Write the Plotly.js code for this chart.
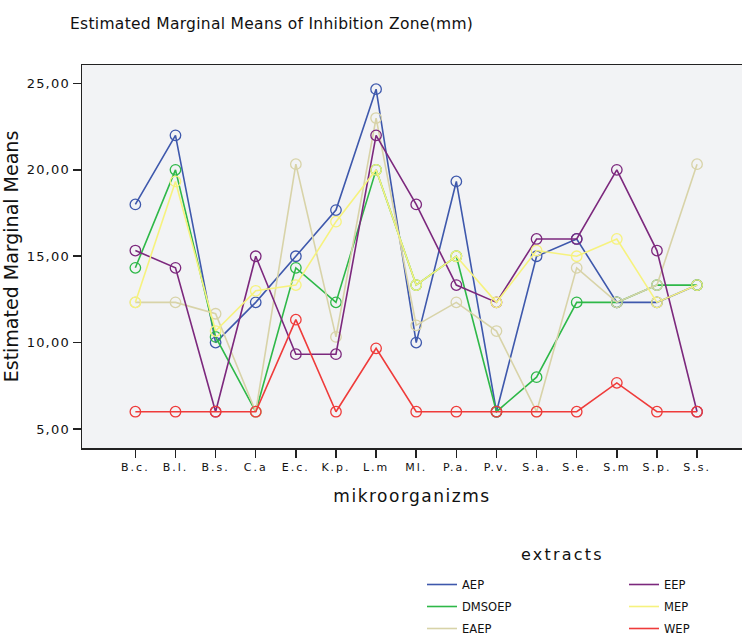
<!DOCTYPE html>
<html>
<head>
<meta charset="utf-8">
<script src="https://cdn.plot.ly/plotly-3.0.1.min.js"></script>
<style>
html,body{margin:0;padding:0;background:#fff;}
#chart{width:742px;height:634px;}
.gtitle{letter-spacing:0.3px;}
.xtitle{letter-spacing:1.5px;}
.xtick text{letter-spacing:2px;}
.ytick text{letter-spacing:1.2px;}
.annotation-text{letter-spacing:2.2px;}
.legendpoints .scatterpts{display:none;}
</style>
</head>
<body>
<div id="chart"></div>
<script>
const categories = ["B.c.","B.l.","B.s.","C.a","E.c.","K.p.","L.m","Ml.","P.a.","P.v.","S.a.","S.e.","S.m","S.p.","S.s."];
const AEP    = [18.00,22.00,10.00,12.33,15.00,17.67,24.67,10.00,19.33,6.00,15.00,16.00,12.33,12.33,13.33];
const DMSOEP = [14.33,20.00,10.33,6.00,14.33,12.33,20.00,13.33,15.00,6.00,8.00,12.33,12.33,13.33,13.33];
const EAEP   = [12.33,12.33,11.67,6.00,20.33,10.33,23.00,11.00,12.33,10.67,6.00,14.33,12.33,13.33,20.33];
const EEP    = [15.33,14.33,6.00,15.00,9.33,9.33,22.00,18.00,13.33,12.33,16.00,16.00,20.00,15.33,6.00];
const MEP    = [12.33,19.33,10.67,13.00,13.33,17.00,20.00,13.33,15.00,12.33,15.33,15.00,16.00,12.33,13.33];
const WEP    = [6.00,6.00,6.00,6.00,11.33,6.00,9.67,6.00,6.00,6.00,6.00,6.00,7.67,6.00,6.00];
const seriesNames = ["AEP","DMSOEP","EAEP","EEP","MEP","WEP"];
const yTickVals = [5,10,15,20,25];
const yTickText = ["5,00","10,00","15,00","20,00","25,00"];

const seriesData = [AEP,DMSOEP,EAEP,EEP,MEP,WEP];
const colors = ["#3E58AC","#2EB848","#D8D3A8","#7C287D","#F6F27E","#EF3B3A"];
const legendOf = ["legend","legend","legend","legend2","legend2","legend2"];
const xIdx = categories.map((c,i)=>i);

const traces = seriesNames.map((n,k)=>({
  type:"scatter", mode:"lines+markers", name:n,
  x:xIdx, y:seriesData[k],
  line:{color:colors[k], width:1.6},
  marker:{symbol:"circle-open", size:10.5, color:colors[k], line:{width:1.3, color:colors[k]}},
  legend:legendOf[k], legendgroup:"g"+k, showlegend:true
}));

const FONT = "'DejaVu Sans',sans-serif";

const layout = {
  width:742, height:634,
  margin:{l:82, r:0, t:65, b:186},
  paper_bgcolor:"#ffffff",
  plot_bgcolor:"#F2F3F5",
  font:{family:FONT, color:"#111", size:12},
  title:{text:"Estimated Marginal Means of Inhibition Zone(mm)", font:{family:FONT, size:15.5, color:"#111"},
         x:70/742, xanchor:"left", xref:"container", y:1-24/634, yanchor:"middle", yref:"container"},
  xaxis:{
    range:[-1.33,15.12], tickmode:"array", tickvals:xIdx, ticktext:categories,
    showgrid:false, zeroline:false, showline:true, linecolor:"#222", linewidth:1.5, mirror:true,
    ticks:"outside", ticklen:8, tickcolor:"#222", tickwidth:1.5,
    tickfont:{family:FONT, size:11, color:"#111"},
    title:{text:"mikroorganizms", font:{family:FONT, size:17, color:"#111"}, standoff:17}
  },
  yaxis:{
    range:[3.9,26.07], tickmode:"array", tickvals:yTickVals, ticktext:yTickText,
    showgrid:false, zeroline:false, showline:true, linecolor:"#222", linewidth:1.5, mirror:false,
    ticks:"outside", ticklen:8, tickcolor:"#222", tickwidth:1.5,
    tickfont:{family:FONT, size:13, color:"#111"},
    title:{text:"Estimated Marginal Means", font:{family:FONT, size:19, color:"#111"}, standoff:4}
  },
  legend:{x:(422-82)/660, xref:"paper", y:(634-570)/634, yref:"container", xanchor:"left", yanchor:"top",
          orientation:"v", bgcolor:"rgba(0,0,0,0)", font:{family:FONT, size:11.5, color:"#111"},
          itemwidth:30, tracegroupgap:3},
  legend2:{x:(624-82)/660, xref:"paper", y:(634-570)/634, yref:"container", xanchor:"left", yanchor:"top",
          orientation:"v", bgcolor:"rgba(0,0,0,0)", font:{family:FONT, size:11.5, color:"#111"},
          itemwidth:30, tracegroupgap:3},
  annotations:[{text:"extracts", xref:"paper", x:(562-82)/660, yref:"paper", y:-(554-448)/383,
                showarrow:false, xanchor:"center", yanchor:"middle",
                font:{family:FONT, size:16, color:"#111"}}]
};

Plotly.newPlot("chart", traces, layout, {displayModeBar:false, staticPlot:true});
</script>
</body>
</html>
